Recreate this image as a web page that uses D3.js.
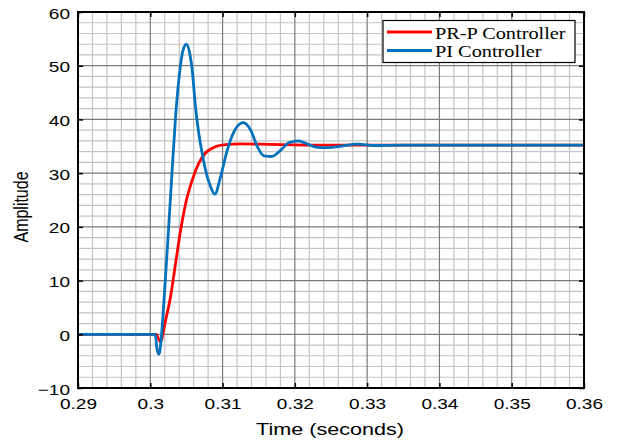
<!DOCTYPE html>
<html><head><meta charset="utf-8">
<script src="https://cdn.jsdelivr.net/npm/d3@7"></script>
<style>body{margin:0;background:#fff}svg{display:block}</style>
</head><body>
<script>
const xTicks = [0.29,0.30,0.31,0.32,0.33,0.34,0.35,0.36];
const xTickLabels = ["0.29","0.3","0.31","0.32","0.33","0.34","0.35","0.36"];
const yTicks = [-10,0,10,20,30,40,50,60];
const seriesNames = ["PR-P Controller","PI Controller"];
const prpTime = [0.290,0.3008,0.3014,0.3021,0.3028,0.3035,0.3042,0.3049,0.3058,0.3067,0.3076,0.3090,0.3104,0.3125,0.3150,0.3180,0.3250,0.3600];
const prpValue = [0,0,-1.4,2.5,7.0,13.2,19.4,24.4,28.7,31.8,33.7,34.9,35.3,35.45,35.4,35.3,35.2,35.2];
const piTime = [0.290,0.3007,0.3009,0.3012,0.3015,0.3019,0.3025,0.3030,0.3035,0.3040,0.3045,0.3050,0.3055,0.3058,0.30625,0.30671,0.30718,0.30764,0.30833,0.30893,0.30972,0.31065,0.31157,0.31287,0.31389,0.31482,0.31574,0.31676,0.31806,0.31921,0.32051,0.32176,0.32315,0.32476,0.32639,0.3287,0.3310,0.3350,0.3600];
const piValue = [0,0,-2.5,-3.7,-1.0,6.4,19.0,30.0,40.5,48.0,52.7,54.0,52.0,49.2,42.4,37.4,33.7,30.6,27.5,26.1,29.3,34.3,37.7,39.4,38.0,34.9,33.2,33.1,34.3,35.7,36.0,35.4,34.8,34.75,35.05,35.4,35.15,35.2,35.2];
const colors = ["#ff0000","#0072bd"];

const W=618,H=441,S=1.27;
const m={l:78,r:584,t:12,b:388};
const svg=d3.select("body").append("svg").attr("width",W).attr("height",H);
const x=d3.scaleLinear().domain([0.29,0.36]).range([m.l,m.r]);
const y=d3.scaleLinear().domain([-10,60]).range([m.b,m.t]);

// minor grid
const xMinor=d3.range(0,36).map(i=>0.29+i*0.002).filter(v=>Math.abs(Math.round(v*100)-v*100)>1e-6);
const yMinor=d3.range(-10,61,2).filter(v=>v%10!==0);
const g=svg.append("g");
g.selectAll(".xm").data(xMinor).join("line").attr("x1",d=>x(d)).attr("x2",d=>x(d)).attr("y1",m.t).attr("y2",m.b).attr("stroke","#c4c4c4").attr("stroke-width",1.2);
g.selectAll(".ym").data(yMinor).join("line").attr("y1",d=>y(d)).attr("y2",d=>y(d)).attr("x1",m.l).attr("x2",m.r).attr("stroke","#c4c4c4").attr("stroke-width",1.2);
g.selectAll(".xM").data(xTicks).join("line").attr("x1",d=>x(d)).attr("x2",d=>x(d)).attr("y1",m.t).attr("y2",m.b).attr("stroke","#7a7a7a").attr("stroke-width",1.2);
g.selectAll(".yM").data(yTicks).join("line").attr("y1",d=>y(d)).attr("y2",d=>y(d)).attr("x1",m.l).attr("x2",m.r).attr("stroke","#7a7a7a").attr("stroke-width",1.2);

// lines
const line=d3.line().x(d=>x(d[0])).y(d=>y(d[1])).curve(d3.curveMonotoneX);
const prp=prpTime.map((t,i)=>[t,prpValue[i]]);
const pi=piTime.map((t,i)=>[t,piValue[i]]);
svg.append("clipPath").attr("id","c").append("rect").attr("x",m.l).attr("y",m.t).attr("width",m.r-m.l).attr("height",m.b-m.t);
svg.append("path").datum(prp).attr("d",line).attr("fill","none").attr("stroke",colors[0]).attr("stroke-width",2.8).attr("clip-path","url(#c)");
svg.append("path").datum(pi).attr("d",line).attr("fill","none").attr("stroke",colors[1]).attr("stroke-width",2.8).attr("clip-path","url(#c)");

// axes
const font="'Liberation Sans', Arial, sans-serif";
const xa=svg.append("g").attr("transform",`translate(0,${m.b})`).call(d3.axisBottom(x).tickValues(xTicks).tickFormat((d,i)=>xTickLabels[i]).tickSize(-5).tickPadding(10));
const ya=svg.append("g").attr("transform",`translate(${m.l},0)`).call(d3.axisLeft(y).tickValues(yTicks).tickSize(-5).tickPadding(8));
const xt=svg.append("g").attr("transform",`translate(0,${m.t})`).call(d3.axisTop(x).tickValues(xTicks).tickFormat("").tickSize(-5));
const yr=svg.append("g").attr("transform",`translate(${m.r},0)`).call(d3.axisRight(y).tickValues(yTicks).tickFormat("").tickSize(-5));
[xa,ya,xt,yr].forEach(a=>{a.select(".domain").remove();a.selectAll("line").attr("stroke","#000").attr("stroke-width",1.5);a.selectAll("text").attr("fill","#000").style("font-family",font).style("font-size","15px");});
xa.selectAll("text").attr("transform",`scale(${S},1)`);
ya.selectAll("text").attr("x",-8/S).attr("dy","0.4em").attr("transform",`scale(${S},1)`);
svg.append("rect").attr("x",m.l).attr("y",m.t).attr("width",m.r-m.l).attr("height",m.b-m.t).attr("fill","none").attr("stroke","#000").attr("stroke-width",2);

svg.append("text").attr("transform",`translate(330,435) scale(${S},1)`).attr("text-anchor","middle").style("font-family",font).style("font-size","17px").text("Time (seconds)");
svg.append("text").attr("transform",`translate(28,207) scale(${S},1) rotate(-90)`).attr("text-anchor","middle").style("font-family",font).style("font-size","16px").text("Amplitude");

// legend
const lg=svg.append("g");
lg.append("rect").attr("x",383).attr("y",20.5).attr("width",192).attr("height",42).attr("fill","#fff").attr("stroke","#000").attr("stroke-width",1.2);
seriesNames.forEach((n,i)=>{
  const yy=32+i*18.5;
  lg.append("line").attr("x1",387).attr("x2",432).attr("y1",yy).attr("y2",yy).attr("stroke",colors[i]).attr("stroke-width",2.8);
  lg.append("text").attr("transform",`translate(435,${yy+6.5}) scale(${S},1)`).style("font-family","'Liberation Serif','Times New Roman',serif").style("font-size","16px").text(n);
});
</script>
</body></html>
